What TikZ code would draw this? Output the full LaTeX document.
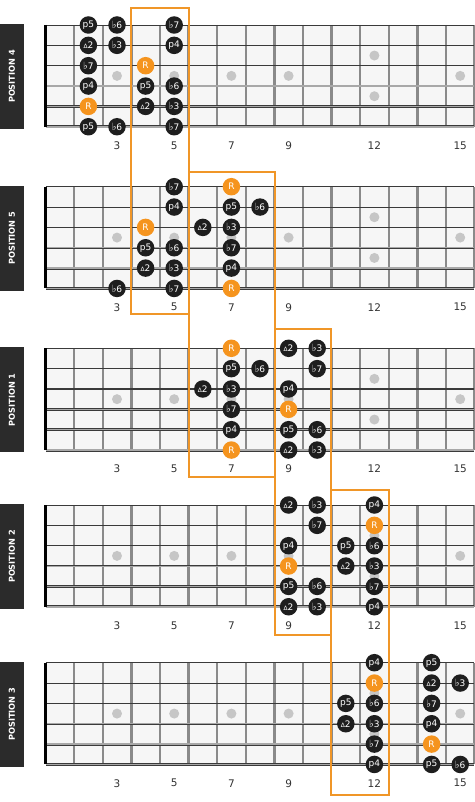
\documentclass[tikz,border=0pt]{standalone}
\usepackage{fontspec}
\setmainfont{DejaVu Sans}
\definecolor{notebk}{HTML}{1E1E1E}
\definecolor{rootor}{RGB}{245,148,30}
\definecolor{boxor}{RGB}{240,150,40}
\definecolor{boardbg}{HTML}{F6F6F6}
\definecolor{fretgr}{HTML}{8A8A8A}
\definecolor{strdk}{HTML}{3A3A3A}
\definecolor{strlt}{HTML}{A8A8A8}
\definecolor{inlaygr}{HTML}{C6C6C6}
\definecolor{labelbk}{HTML}{2B2B2B}
\definecolor{numgr}{HTML}{333333}
\newcommand\fl{{\fontsize{10}{10}\selectfont ♭}}
\newcommand\tri{{\fontsize{6}{6}\selectfont ∆}}
\def\FBx{45.5}
\def\FBs{28.6}
\def\FBss{20.35}
\newcommand\PlaceNotes[3]{%
  \foreach \s/\f/\t in {#3}
    \node[note, name=#2-\s-\f] at ({\FBx+\FBs*(\f-0.5)},{#1+(\s-1)*\FBss}) {\t};}
\newcommand\PlaceRoots[3]{%
  \foreach \s/\f in {#3}
    \node[root, name=#2-\s-\f] at ({\FBx+\FBs*(\f-0.5)},{#1+(\s-1)*\FBss}) {R};}
\begin{document}
\begin{tikzpicture}[x=1pt,y=-1pt,
  note/.style={circle, fill=notebk, minimum size=17.5pt, inner sep=0pt, text=white,
    font=\fontsize{9}{9}\selectfont},
  root/.style={note, fill=rootor},
  inlay/.style={circle, fill=inlaygr, minimum size=10pt, inner sep=0pt},
  poslabel/.style={rotate=90, text=white, font=\bfseries\fontsize{8.2}{8.2}\selectfont},
  fretnum/.style={text=numgr, font=\fontsize{10.5}{10.5}\selectfont},
  posbox/.style={draw=boxor, line width=2pt}]
\useasboundingbox (0,0) rectangle (474,802);
\fill[white] (0,0) rectangle (474,802);
\foreach \T/\P in {25/4, 186.7/5, 348.3/1, 505/2, 662.7/3} {
  \fill[boardbg] (\FBx,\T) rectangle (474,\T+102);
  \foreach \n in {1,...,15}
    \draw[fretgr, line width=2.4pt] ({\FBx+\FBs*\n},\T) -- ++(0,101.75);
  \foreach \n in {3,5,7,9,15}
    \node[inlay, name=inl-\P-\n] at ({\FBx+\FBs*(\n-0.5)},{\T+2.5*\FBss}) {};
  \node[inlay, name=inl-\P-12a] at ({\FBx+\FBs*11.5},{\T+1.5*\FBss}) {};
  \node[inlay, name=inl-\P-12b] at ({\FBx+\FBs*11.5},{\T+3.5*\FBss}) {};
  \foreach \k/\w in {1/0.8,2/1.0,3/1.3}
    \draw[strdk, line width=\w pt] (\FBx,{\T+(\k-1)*\FBss}) -- (474,{\T+(\k-1)*\FBss});
  \foreach \k/\w in {4/2.4,5/2.8,6/3.0} {
    \draw[strdk, line width=\w pt] (\FBx,{\T+(\k-1)*\FBss}) -- (474,{\T+(\k-1)*\FBss});
    \draw[strlt, line width={\w*1pt-1.3pt}] (\FBx,{\T+(\k-1)*\FBss}) -- (474,{\T+(\k-1)*\FBss});
  }
  \draw[black, line width=3pt] (\FBx,\T) -- ++(0,101.75);
  \fill[labelbk] (0,\T-1) rectangle (24,\T+104);
  \node[poslabel, name=lab-\P] at (12,\T+51.5) {POSITION \P};
  \foreach \n in {3,5,7,9,12,15}
    \node[fretnum, name=num-\P-\n] at ({\FBx+\FBs*(\n-0.5)},\T+120.5) {\n};
}
% position boxes
\draw[posbox] (131.3,8) rectangle (188.8,314);
\draw[posbox] (188.8,171.7) rectangle (275.3,476.7);
\draw[posbox] (275.3,329) rectangle (331,635);
\draw[posbox] (331,490) rectangle (389,795);
% position 4
\PlaceNotes{25}{P4}{1/2/p5, 1/3/\fl6, 1/5/\fl7, 2/2/\tri2, 2/3/\fl3, 2/5/p4, 3/2/\fl7,
  4/2/p4, 4/4/p5, 4/5/\fl6, 5/4/\tri2, 5/5/\fl3, 6/2/p5, 6/3/\fl6, 6/5/\fl7}
\PlaceRoots{25}{P4}{3/4, 5/2}
% position 5
\PlaceNotes{186.7}{P5}{1/5/\fl7, 2/5/p4, 2/7/p5, 2/8/\fl6, 3/6/\tri2, 3/7/\fl3,
  4/4/p5, 4/5/\fl6, 4/7/\fl7, 5/4/\tri2, 5/5/\fl3, 5/7/p4, 6/3/\fl6, 6/5/\fl7}
\PlaceRoots{186.7}{P5}{1/7, 3/4, 6/7}
% position 1
\PlaceNotes{348.3}{P1}{1/9/\tri2, 1/10/\fl3, 2/7/p5, 2/8/\fl6, 2/10/\fl7, 3/6/\tri2,
  3/7/\fl3, 3/9/p4, 4/7/\fl7, 5/7/p4, 5/9/p5, 5/10/\fl6, 6/9/\tri2, 6/10/\fl3}
\PlaceRoots{348.3}{P1}{1/7, 4/9, 6/7}
% position 2
\PlaceNotes{505}{P2}{1/9/\tri2, 1/10/\fl3, 1/12/p4, 2/10/\fl7, 3/9/p4, 3/11/p5, 3/12/\fl6,
  4/11/\tri2, 4/12/\fl3, 5/9/p5, 5/10/\fl6, 5/12/\fl7, 6/9/\tri2, 6/10/\fl3, 6/12/p4}
\PlaceRoots{505}{P2}{2/12, 4/9}
% position 3
\PlaceNotes{662.7}{P3}{1/12/p4, 1/14/p5, 2/14/\tri2, 2/15/\fl3, 3/11/p5, 3/12/\fl6,
  3/14/\fl7, 4/11/\tri2, 4/12/\fl3, 4/14/p4, 5/12/\fl7, 6/12/p4, 6/14/p5, 6/15/\fl6}
\PlaceRoots{662.7}{P3}{2/12, 5/14}
\end{tikzpicture}
\end{document}
